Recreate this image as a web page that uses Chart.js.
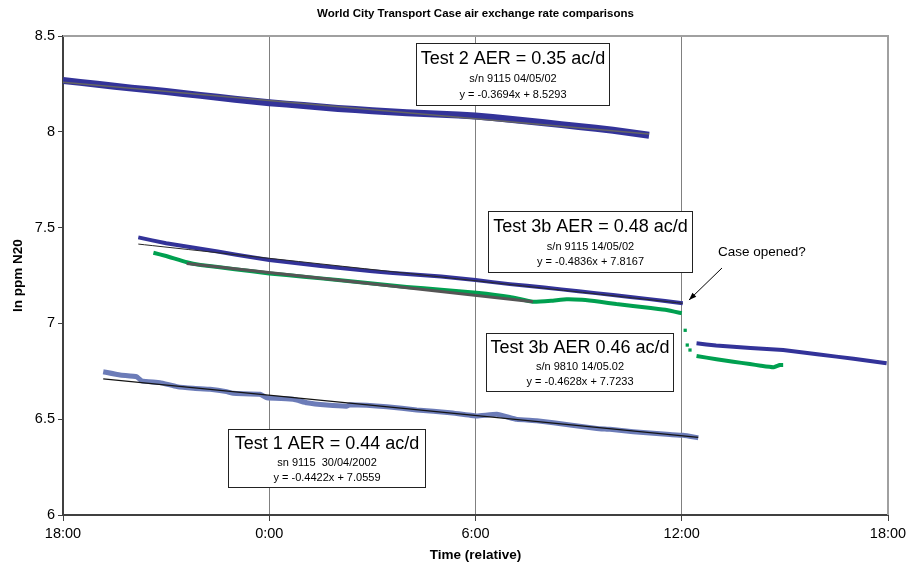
<!DOCTYPE html>
<html lang="en">
<head>
    <meta charset="UTF-8">
    <title>World City Transport Case air exchange rate comparisons</title>
    <script src="https://cdn.jsdelivr.net/npm/chart.js"></script>
    <style>
        html, body { margin: 0; padding: 0; background: #fff; }
        #wrap { width: 922px; height: 570px; }
    </style>
</head>
<body>
    <div id="wrap"><canvas id="aerChart" width="922" height="570"></canvas></div>

    <script>
        // x = hours since 18:00 (relative), y = ln ppm N20
        const xTickLabels = ['18:00', '0:00', '6:00', '12:00', '18:00'];

        // Test 2
        const test2Hours = [0, 1, 2, 3, 4, 5, 6, 7, 8, 9, 10, 11, 12, 13, 14, 15, 16, 17.05];
        const test2Values = [8.268, 8.248, 8.228, 8.210, 8.190, 8.170, 8.152, 8.137, 8.122, 8.110, 8.100, 8.092, 8.082, 8.066, 8.047, 8.028, 8.008, 7.982];
        const test2TrendHours = [0, 17.05];
        const test2TrendValues = [8.258, 7.988];

        // Test 3b, s/n 9115 (blue)
        const test3bHours = [2.19, 3, 4, 5, 6, 7, 8, 9, 10, 11, 12, 13, 14, 15, 16, 17, 18.03];
        const test3bValues = [7.449, 7.418, 7.390, 7.360, 7.331, 7.310, 7.290, 7.272, 7.258, 7.245, 7.226, 7.205, 7.187, 7.168, 7.148, 7.128, 7.105];
        const test3bLateHours = [18.43, 19, 20, 20.95, 22, 23, 23.96];
        const test3bLateValues = [6.896, 6.885, 6.872, 6.861, 6.838, 6.815, 6.792];
        const test3bTrendHours = [2.19, 18.03];
        const test3bTrendValues = [7.414, 7.105];

        // Test 3b, s/n 9810 (green)
        const test3gHours = [2.63, 3, 3.6, 4, 5, 6, 7, 8, 9, 10, 11, 12.03, 13, 13.67, 14.2, 14.65, 15.1, 15.62, 16.1, 16.58, 17.1, 17.56, 18.0];
        const test3gValues = [7.369, 7.352, 7.319, 7.305, 7.283, 7.261, 7.244, 7.226, 7.208, 7.190, 7.176, 7.160, 7.138, 7.113, 7.118, 7.126, 7.123, 7.113, 7.101, 7.091, 7.080, 7.070, 7.053];
        const test3gJumpHours = [18.1, 18.16, 18.24];
        const test3gJumpValues = [6.964, 6.887, 6.861];
        const test3gLateHours = [18.43, 19.01, 19.5, 19.98, 20.3, 20.66, 20.85, 20.95];
        const test3gLateValues = [6.830, 6.813, 6.800, 6.788, 6.779, 6.771, 6.783, 6.783];
        const test3gTrendHours = [3.6, 13.67];
        const test3gTrendValues = [7.313, 7.113];

        // Test 1
        const test1Hours = [1.17, 1.66, 2.14, 2.29, 2.82, 3.31, 3.79, 4.28, 4.76, 4.95, 5.73, 5.93, 6.70, 7.09, 7.67, 8.25, 8.35, 9.42, 10.29, 11.26, 12.03, 12.62, 13.2, 13.78, 14.75, 15.53, 15.91, 16.59, 17.56, 18.04, 18.48];
        const test1Values = [6.748, 6.731, 6.722, 6.700, 6.691, 6.670, 6.661, 6.656, 6.644, 6.635, 6.630, 6.612, 6.604, 6.586, 6.574, 6.568, 6.575, 6.565, 6.548, 6.534, 6.517, 6.526, 6.499, 6.492, 6.470, 6.452, 6.447, 6.435, 6.421, 6.416, 6.403];
        const test1TrendHours = [1.17, 18.48];
        const test1TrendValues = [6.710, 6.405];

        // text boxes (data units: x0, x1, yTop, yBottom)
        const boxes = [
            { x0: 10.27, x1: 15.88, yTop: 8.463, yBottom: 8.140, lines: ['Test 2 AER = 0.35 ac/d', 's/n 9115 04/05/02', 'y = -0.3694x + 8.5293'] },
            { x0: 12.36, x1: 18.30, yTop: 7.587, yBottom: 7.268, lines: ['Test 3b AER = 0.48 ac/d', 's/n 9115 14/05/02', 'y = -0.4836x + 7.8167'] },
            { x0: 12.31, x1: 17.75, yTop: 6.950, yBottom: 6.647, lines: ['Test 3b AER 0.46 ac/d', 's/n 9810 14/05.02', 'y = -0.4628x + 7.7233'] },
            { x0: 4.80, x1: 10.53, yTop: 6.449, yBottom: 6.146, lines: ['Test 1 AER = 0.44 ac/d', 'sn 9115  30/04/2002', 'y = -0.4422x + 7.0559'] }
        ];
        const note = { text: 'Case opened?', x: 20.33, y: 7.373, fromX: 19.17, fromY: 7.289, toX: 18.21, toY: 7.122 };

        const FONT = "'Liberation Sans', Arial, Helvetica, sans-serif";

        function pts(xs, ys) {
            return xs.map((x, i) => ({ x: x, y: ys[i] }));
        }

        function series(xs, ys, color, width, order) {
            return {
                data: pts(xs, ys),
                borderColor: color,
                backgroundColor: color,
                borderWidth: width,
                pointRadius: 0,
                tension: 0.1,
                order: order
            };
        }

        const navy = 'rgb(51, 51, 153)';
        const green = 'rgb(0, 160, 80)';
        const lilac = 'rgb(108, 124, 184)';

        const datasets = [
            series(test2TrendHours, test2TrendValues, 'rgb(100, 100, 100)', 1.5, 0),
            series(test3bTrendHours, test3bTrendValues, 'rgb(40, 40, 40)', 1, 0),
            series(test3gTrendHours, test3gTrendValues, 'rgb(85, 85, 85)', 3, 0),
            series(test1TrendHours, test1TrendValues, 'rgb(20, 20, 20)', 1.3, 0),
            series(test2Hours, test2Values, navy, 7, 2),
            series(test3bHours, test3bValues, navy, 4, 2),
            series(test3bLateHours, test3bLateValues, navy, 4, 2),
            series(test3gHours, test3gValues, green, 4, 3),
            series(test3gLateHours, test3gLateValues, green, 4, 3),
            series(test1Hours, test1Values, lilac, 5, 2),
            {
                data: pts(test3gJumpHours, test3gJumpValues),
                showLine: false,
                pointStyle: 'rect',
                pointRadius: 2.3,
                pointBorderWidth: 0,
                backgroundColor: green,
                borderColor: green,
                order: 3
            }
        ];

        // title, frame, text boxes and the arrow note
        const decorations = {
            id: 'decorations',
            afterDraw(chart) {
                const ctx = chart.ctx;
                const a = chart.chartArea;
                const xs = chart.scales.x;
                const ys = chart.scales.y;
                ctx.save();

                // light frame on top and right
                ctx.strokeStyle = '#a0a0a0';
                ctx.lineWidth = 2;
                ctx.beginPath();
                ctx.moveTo(a.left, a.top);
                ctx.lineTo(a.right, a.top);
                ctx.lineTo(a.right, a.bottom);
                ctx.stroke();

                // chart title
                ctx.fillStyle = '#000';
                ctx.textAlign = 'center';
                ctx.textBaseline = 'middle';
                ctx.font = 'bold 11.5px ' + FONT;
                ctx.fillText('World City Transport Case air exchange rate comparisons', (a.left + a.right) / 2, 14);

                // boxes
                boxes.forEach(b => {
                    const l = Math.round(xs.getPixelForValue(b.x0)) + 0.5;
                    const r = Math.round(xs.getPixelForValue(b.x1)) + 0.5;
                    const t = Math.round(ys.getPixelForValue(b.yTop)) + 0.5;
                    const bt = Math.round(ys.getPixelForValue(b.yBottom)) + 0.5;
                    const h = bt - t;
                    ctx.fillStyle = '#fff';
                    ctx.fillRect(l, t, r - l, h);
                    ctx.strokeStyle = '#222';
                    ctx.lineWidth = 1;
                    ctx.strokeRect(l, t, r - l, h);
                    const cx = (l + r) / 2;
                    ctx.fillStyle = '#000';
                    ctx.font = '18px ' + FONT;
                    ctx.fillText(b.lines[0], cx, t + h * 0.25);
                    ctx.font = '11px ' + FONT;
                    ctx.fillText(b.lines[1], cx, t + h * 0.58);
                    ctx.fillText(b.lines[2], cx, t + h * 0.83);
                });

                // note with arrow
                ctx.font = '13.5px ' + FONT;
                ctx.fillStyle = '#000';
                ctx.fillText(note.text, xs.getPixelForValue(note.x), ys.getPixelForValue(note.y));
                const x1 = xs.getPixelForValue(note.fromX), y1 = ys.getPixelForValue(note.fromY);
                const x2 = xs.getPixelForValue(note.toX), y2 = ys.getPixelForValue(note.toY);
                ctx.strokeStyle = '#000';
                ctx.lineWidth = 1;
                ctx.beginPath();
                ctx.moveTo(x1, y1);
                ctx.lineTo(x2, y2);
                ctx.stroke();
                const ang = Math.atan2(y2 - y1, x2 - x1);
                ctx.beginPath();
                ctx.moveTo(x2, y2);
                ctx.lineTo(x2 - 8 * Math.cos(ang - 0.35), y2 - 8 * Math.sin(ang - 0.35));
                ctx.lineTo(x2 - 8 * Math.cos(ang + 0.35), y2 - 8 * Math.sin(ang + 0.35));
                ctx.closePath();
                ctx.fill();

                ctx.restore();
            }
        };

        Chart.defaults.font.family = FONT;
        Chart.defaults.color = '#000';

        new Chart(document.getElementById('aerChart'), {
            type: 'line',
            data: { datasets: datasets },
            options: {
                responsive: false,
                animation: false,
                layout: { padding: { top: 36, right: 34, left: 0, bottom: 0 } },
                plugins: {
                    legend: { display: false },
                    tooltip: { enabled: false }
                },
                scales: {
                    x: {
                        type: 'linear',
                        min: 0,
                        max: 24,
                        afterFit: s => { s.height = 55; },
                        afterBuildTicks: s => {
                            s.ticks = xTickLabels.map((_, i) => ({ value: i * 6 }));
                        },
                        ticks: {
                            callback: (v) => xTickLabels[Math.round(v / 6)],
                            font: { size: 14.5 },
                            padding: 4,
                            maxRotation: 0
                        },
                        grid: { color: '#808080', lineWidth: 1, tickLength: 6, tickColor: '#404040' },
                        border: { color: '#404040', width: 2 },
                        title: {
                            display: true,
                            text: 'Time (relative)',
                            font: { size: 13.5, weight: 'bold' },
                            padding: { top: 0, bottom: 7 }
                        }
                    },
                    y: {
                        min: 6,
                        max: 8.5,
                        afterFit: s => { s.width = 63; },
                        ticks: {
                            stepSize: 0.5,
                            font: { size: 14.5 },
                            padding: 3,
                            callback: (v) => String(Math.round(v * 10) / 10)
                        },
                        grid: { drawOnChartArea: false, tickLength: 5, color: '#404040' },
                        border: { color: '#404040', width: 2 },
                        title: {
                            display: true,
                            text: 'ln ppm N20',
                            font: { size: 13.5, weight: 'bold' },
                            padding: { top: 10, bottom: 0 }
                        }
                    }
                }
            },
            plugins: [decorations]
        });
    </script>
</body>
</html>
